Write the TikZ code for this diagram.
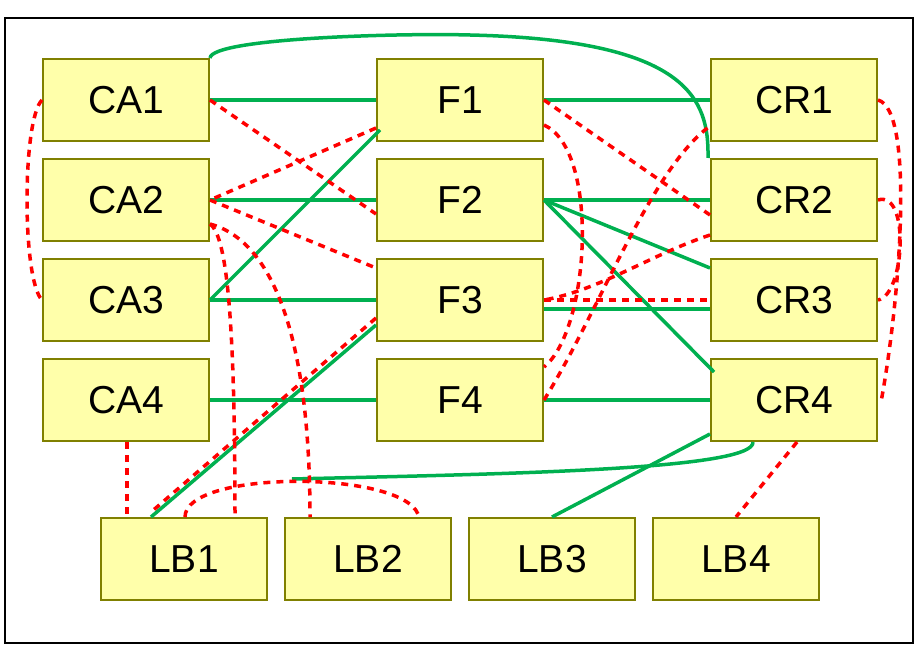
\documentclass[tikz,border=0pt]{standalone}
\usepackage{fontspec}
\setmainfont{Liberation Sans}
\begin{document}
\begin{tikzpicture}[x=1pt,y=-1pt,
  box/.style={draw={rgb,255:red,128;green,128;blue,0},line width=2pt,fill={rgb,255:red,255;green,255;blue,170},minimum width=166pt,minimum height=82pt,inner sep=0pt,font=\fontsize{39}{44}\selectfont},
  g/.style={draw={rgb,255:red,0;green,176;blue,80},line width=3.5pt},
  r/.style={draw=red,line width=3.5pt,dash pattern=on 7pt off 6pt}]
\useasboundingbox (0,0) rectangle (920,660);
\draw[line width=1.3pt] (5,18) rectangle (913,643);
\foreach \i/\y in {1/100,2/200,3/300,4/400}{
  \node[box] (CA\i) at (126,\y) {CA\i};
  \node[box] (F\i) at (460,\y) {F\i};
  \node[box] (CR\i) at (794,\y) {CR\i};}
\foreach \i/\x in {1/184,2/368,3/552,4/736}{
  \node[box] (LB\i) at (\x,559) {LB\i};}
% green
\draw[g] (CA1.east) -- (F1.west);
\draw[g] (CA2.east) -- (F2.west);
\draw[g] (CA3.east) -- (F3.west);
\draw[g] (CA4.east) -- (F4.west);
\draw[g] (CA3.east) -- ([xshift=4pt,yshift=-30pt]F1.west);
\draw[g] ([yshift=-25pt]F3.west) -- ([xshift=-33pt]LB1.north);
\draw[g] (F1.east) -- (CR1.west);
\draw[g] (F2.east) -- (CR2.west);
\draw[g] (F2.east) -- ([yshift=32pt]CR3.west);
\draw[g] (F2.east) -- ([xshift=4pt,yshift=28pt]CR4.west);
\draw[g] ([yshift=-9pt]F3.east) -- ([yshift=-9pt]CR3.west);
\draw[g] (F4.east) -- (CR4.west);
\draw[g] (CA1.north east) .. controls (212,38) and (400,33) .. (470,35) .. controls (690,40) and (709,100) .. ([xshift=-2pt]CR2.north west);
\draw[g] ([xshift=-41pt]CR4.south) .. controls (755,470) and (500,474) .. (292,479);
\draw[g] (LB3.north) -- ([yshift=-34pt]CR4.west);
% red
\draw[r] (CA1.west) .. controls (22,120) and (22,280) .. (CA3.west);
\draw[r] (CA1.east) -- ([yshift=-14pt]F2.west);
\draw[r] ([yshift=-28pt]F1.west) -- (CA2.east);
\draw[r] (CA2.east) -- ([yshift=32pt]F3.west);
\draw[r] ([yshift=-24pt]CA2.east) .. controls (225,235) and (235,300) .. ([xshift=51pt]LB1.north);
\draw[r] ([yshift=-24pt]CA2.east) .. controls (270,240) and (310,330) .. ([xshift=-58pt]LB2.north);
\draw[r] ([yshift=-18pt]F3.west) -- ([xshift=-34pt,yshift=4pt]LB1.north);
\draw[r] ([xshift=1pt]LB1.north) .. controls (185,470) and (400,470) .. ([xshift=50pt,yshift=3pt]LB2.north);
\draw[r] ([xshift=1pt]CA4.south) -- ([xshift=-57pt]LB1.north);
\draw[r] (F1.east) -- ([yshift=-15pt]CR2.west);
\draw[r] ([yshift=-25pt]F1.east) .. controls (600,150) and (590,330) .. ([yshift=33pt]F4.east);
\draw[r] ([yshift=-35pt]CR2.west) .. controls (650,255) and (600,290) .. (F3.east);
\draw[r] (F3.east) -- (CR3.west);
\draw[r] (F4.east) .. controls (600,310) and (650,170) .. ([yshift=-26pt]CR1.west);
\draw[r] (CR1.east) .. controls (915,110) and (900,300) .. ([xshift=3pt,yshift=-2pt]CR4.east);
\draw[r] (CR2.east) .. controls (910,190) and (905,295) .. (CR3.east);
\draw[r] ([xshift=3pt]CR4.south) -- (LB4.north);
\end{tikzpicture}
\end{document}
